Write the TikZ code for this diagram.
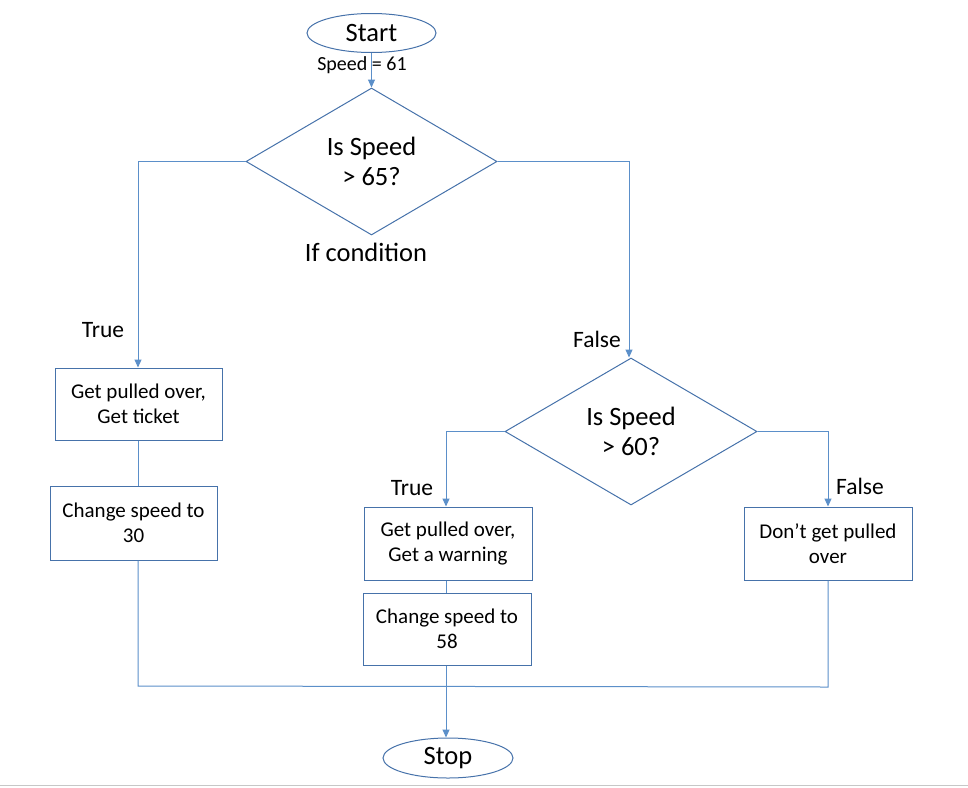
\documentclass[tikz,border=0pt]{standalone}
\usepackage{fontspec}
\setmainfont{Carlito}
\usetikzlibrary{shapes.geometric,arrows.meta}
\definecolor{lineblue}{RGB}{91,143,201}
\definecolor{boxblue}{RGB}{70,114,170}
\tikzset{
  conn/.style={draw=lineblue, line width=1pt},
  arr/.style={conn, -{Triangle[width=7pt,length=8pt]}},
  procbox/.style={draw=boxblue, line width=1pt, rectangle, inner sep=0pt, align=center, font=\fontsize{21}{25}\selectfont},
  termin/.style={draw=boxblue, line width=1pt, ellipse, inner sep=0pt, font=\fontsize{26.5}{30}\selectfont},
  decis/.style={draw=boxblue, line width=1pt, diamond, inner sep=0pt, align=center, font=\fontsize{26.5}{30}\selectfont},
  lbl/.style={inner sep=0pt, font=\fontsize{23.5}{26}\selectfont},
}
\begin{document}
\begin{tikzpicture}[x=1pt,y=-1pt]
\useasboundingbox (0,0) rectangle (968,787);
\draw[draw=black!22, line width=1.5pt] (0,785.5) -- (968,785.5);

\node[termin, minimum width=129pt, minimum height=39pt] (start) at (371.5,33) {Start};
\node[inner sep=0pt, font=\fontsize{20}{22}\selectfont] (spd) at (362,65) {Speed = 61};
\node[decis, minimum width=251pt, minimum height=147pt] (d1) at (371.5,161.5) {Is Speed\\> 65?};
\node[lbl, font=\fontsize{26.5}{30}\selectfont] (ifc) at (366,252) {If condition};

\node[procbox, minimum width=167pt, minimum height=72pt] (b1) at (138.5,404) {Get pulled over,\\Get ticket};
\node[procbox, minimum width=167pt, minimum height=74pt] (b2) at (133.5,523) {Change speed to\\30};
\node[lbl] (t1) at (103,330) {True};

\node[decis, minimum width=252pt, minimum height=147pt] (d2) at (631,431.5) {Is Speed\\> 60?};
\node[lbl] (f1) at (597,339) {False};

\node[procbox, minimum width=168pt, minimum height=73pt] (b3) at (448,543.5) {Get pulled over,\\Get a warning};
\node[procbox, minimum width=168pt, minimum height=72pt] (b4) at (447,629) {Change speed to\\58};
\node[procbox, minimum width=168pt, minimum height=73pt] (b5) at (828,543.5) {Don’t get pulled\\over};
\node[lbl] (t2) at (412,488) {True};
\node[lbl] (f2) at (860,486) {False};

\node[termin, minimum width=130pt, minimum height=40pt] (stop) at (448,758) {Stop};

\coordinate (j1) at (138,161.5);
\coordinate (j2) at (629,161.5);
\coordinate (j3) at (446,431.5);
\coordinate (j4) at (828,431.5);
\coordinate (m1) at (138,686);
\coordinate (m2) at (828,687);
\coordinate (m3) at (446,686.5);

\draw[arr] (start.south) -- (d1.north);
\draw[arr] (d1.west) -- (j1) -- (b1.north -| j1);
\draw[arr] (d1.east) -- (j2) -- (d2.north -| j2);
\draw[conn] (b1.south -| j1) -- (b2.north -| j1);
\draw[conn] (b2.south -| j1) -- (m1) -- (m2) -- (b5.south -| m2);
\draw[arr] (d2.west) -- (j3) -- (b3.north -| j3);
\draw[arr] (d2.east) -- (j4) -- (b5.north -| j4);
\draw[conn] (b3.south -| j3) -- (b4.north -| j3);
\draw[arr] (b4.south -| j3) -- (stop.north -| j3);
\end{tikzpicture}
\end{document}
